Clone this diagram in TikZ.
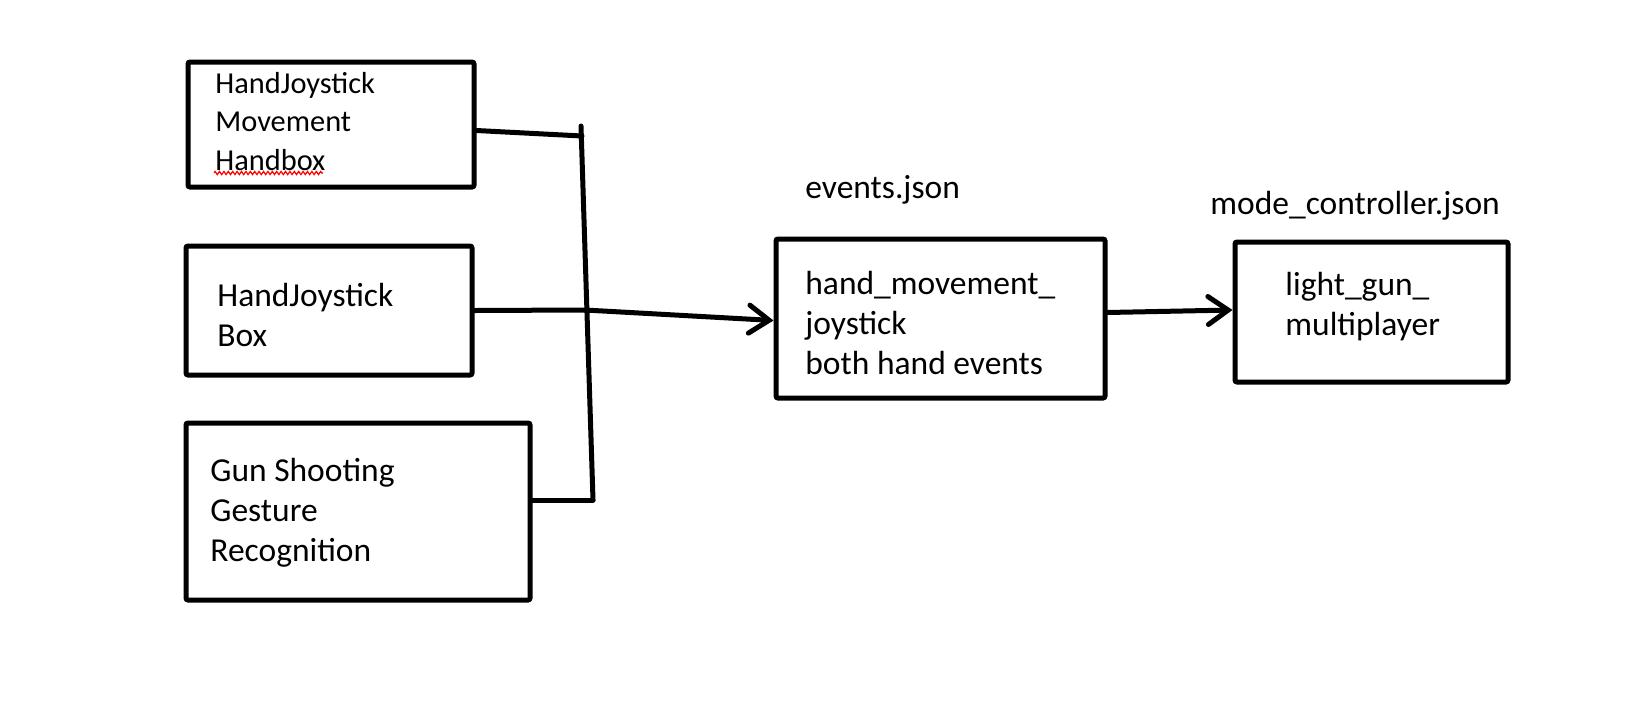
\documentclass[tikz,border=0pt]{standalone}
\usepackage{fontspec}
\setmainfont{Carlito}
\usetikzlibrary{positioning, arrows.meta, decorations.pathmorphing}
\tikzset{
      box/.style={draw,line width=2.5pt,inner sep=0pt,rounded corners=1pt},
      txt/.style={anchor=west,align=left,inner sep=0pt,font=\fontsize{16.75}{20}\selectfont},
      wire/.style={line width=2.5pt,line cap=round},
      flow/.style={wire,-{Straight Barb[length=10pt,width=14pt,line cap=round]}}
    }

\begin{document}
\begin{tikzpicture}[x=0.5pt,y=-0.5pt]
\useasboundingbox (0,0) rectangle (1640,703);
% boxes
\node at(331,124.5)[box,minimum width=143pt,minimum height=62.5pt](hjm){};
\node at(329,310.5)[box,minimum width=143pt,minimum height=64.5pt](hjb){};
\node at(358,511.5)[box,minimum width=172pt,minimum height=88.5pt](gun){};
\node at(940.5,318.5)[box,minimum width=164.5pt,minimum height=79.5pt](events){};
\node at(1371.5,312)[box,minimum width=136.5pt,minimum height=70pt](mode){};
% texts
\node at(215,121.5)[txt,font=\fontsize{15.2}{19.25}\selectfont](hjmtext){HandJoystick\\Movement\\Handbox};
\node at(217,315)[txt](hjbtext){HandJoystick\\Box};
\node at(210,513)[txt](guntext){Gun Shooting\\Gesture\\Recognition};
\node at(805,323)[txt](eventstext){hand\_movement\_\\joystick\\both hand events};
\node at(1285,306.5)[txt](modetext){light\_gun\_\\multiplayer};
\node at(805,190)[txt](eventsfile){events.json};
\node at(1210,206)[txt](modefile){mode\_controller.json};
\draw[red,line width=0.6pt,decorate,decoration={zigzag,segment length=2.2pt,amplitude=0.8pt}] (214,173) -- (323,173);
% connectors
\coordinate (bustop) at (581,126);
\coordinate (busbot) at (593,500);
\coordinate (join) at (585,310);
\draw[wire] (bustop) -- (busbot);
\draw[wire] ([yshift=-3pt]hjm.east) -- (582,136);
\draw[wire] (gun.east |- busbot) -- (busbot);
\draw[wire] (hjb.east) -- (join);
\draw[flow] (join) -- ([yshift=-1pt]events.west);
\draw[flow] ([yshift=3pt]events.east) -- ([yshift=1pt]mode.west);
\end{tikzpicture}
\end{document}
